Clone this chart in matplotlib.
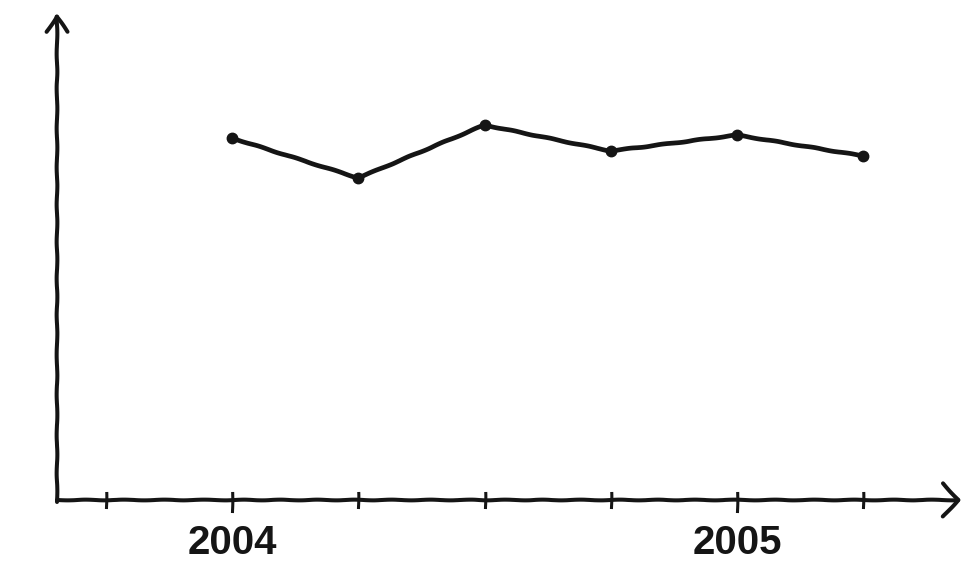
import matplotlib
matplotlib.use("Agg")
import matplotlib.pyplot as plt
import numpy as np

# quarterly values (arbitrary units)
quarters = [2004.0, 2004.25, 2004.5, 2004.75, 2005.0, 2005.25]
values = [362, 322, 375, 349, 365, 344]
tick_pos = [2003.75, 2004.0, 2004.25, 2004.5, 2004.75, 2005.0, 2005.25]
label_pos = [2004.0, 2005.0]
label_txt = ["2004", "2005"]

plt.rcParams['path.sketch'] = (0.35, 40, 1.5)

fig = plt.figure(figsize=(9.64, 5.65), dpi=100)
ax = fig.add_axes([0, 0, 1, 1])
ax.set_xlim(2004 - 232 / 505, 2004 + (964 - 232) / 505)
ax.set_ylim(-65, 500)
ax.axis('off')

x0 = 2004 - (232 - 57) / 505
x1 = 2004 + (961 - 232) / 505
ink = '#151515'

# axes with open arrow heads
ax.annotate('', xy=(x1, 0), xytext=(x0, 0),
            arrowprops=dict(arrowstyle='->,head_length=1.1,head_width=1.2',
                            lw=2.9, color=ink, shrinkA=0, shrinkB=0))
ax.annotate('', xy=(x0, 487), xytext=(x0, -2),
            arrowprops=dict(arrowstyle='->,head_length=1.1,head_width=0.75',
                            lw=2.9, color=ink, shrinkA=0, shrinkB=0))

for t in tick_pos:
    lo = -11 if t in label_pos else -7
    ax.plot([t, t], [lo, 7], color=ink, lw=2.2)

for p, s in zip(label_pos, label_txt):
    ax.text(p, -43, s, ha='center', va='center', fontsize=29,
            family=['Liberation Sans', 'DejaVu Sans'], weight='bold',
            color=ink)

ax.plot(quarters, values, color=ink, lw=3.4, marker='o', ms=7.5)

fig.savefig('out.png', dpi=100)
